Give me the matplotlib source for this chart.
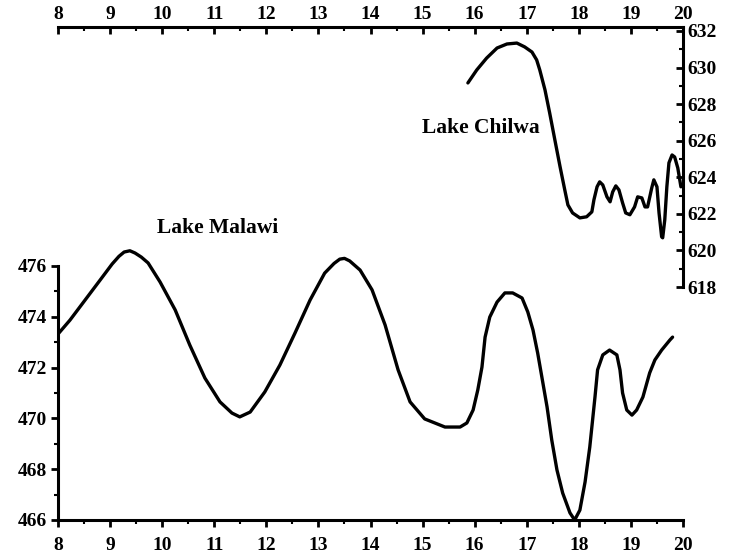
import numpy as np
import matplotlib
matplotlib.use("Agg")
import matplotlib.pyplot as plt
from matplotlib.ticker import MultipleLocator, FixedLocator

# -----------------------------
# Data
# -----------------------------

malawi_x = [8.00, 8.23, 8.52, 8.81, 9.04, 9.17, 9.27, 9.38, 9.48, 9.60,
            9.73, 9.96, 10.25, 10.53, 10.82, 11.11, 11.34, 11.49, 11.69, 11.97,
            12.26, 12.55, 12.84, 13.12, 13.30, 13.41, 13.50, 13.60, 13.80, 14.03,
            14.28, 14.53, 14.76, 15.04, 15.43, 15.72, 15.85, 15.97, 16.06, 16.14,
            16.20, 16.29, 16.43, 16.58, 16.73, 16.91, 17.02, 17.12, 17.21, 17.29,
            17.39, 17.48, 17.58, 17.69, 17.83, 17.92, 18.02, 18.12, 18.21, 18.31,
            18.36, 18.46, 18.59, 18.73, 18.79, 18.84, 18.92, 19.02, 19.11, 19.23,
            19.36, 19.46, 19.59, 19.75, 19.80]
malawi_y = [473.32, 473.87, 474.66, 475.45, 476.08, 476.38, 476.55, 476.60, 476.51, 476.35,
            476.12, 475.37, 474.27, 472.89, 471.59, 470.65, 470.21, 470.06, 470.25, 471.04,
            472.10, 473.36, 474.66, 475.72, 476.10, 476.27, 476.30, 476.20, 475.84, 475.06,
            473.68, 471.91, 470.65, 469.98, 469.66, 469.66, 469.82, 470.33, 471.12, 472.02,
            473.20, 473.99, 474.58, 474.94, 474.94, 474.74, 474.19, 473.48, 472.57, 471.63,
            470.45, 469.15, 467.97, 467.06, 466.28, 466.00, 466.39, 467.50, 468.87, 470.84,
            471.91, 472.50, 472.69, 472.50, 471.91, 471.00, 470.33, 470.13, 470.33, 470.84,
            471.79, 472.30, 472.69, 473.09, 473.20]

chilwa_x = [15.87, 16.04, 16.23, 16.43, 16.62, 16.81, 16.96, 17.10, 17.19, 17.25,
            17.35, 17.44, 17.54, 17.64, 17.73, 17.79, 17.88, 18.02, 18.15, 18.25,
            18.29, 18.35, 18.40, 18.46, 18.54, 18.60, 18.65, 18.71, 18.77, 18.84,
            18.90, 18.98, 19.07, 19.13, 19.21, 19.27, 19.32, 19.40, 19.44, 19.50,
            19.54, 19.59, 19.61, 19.65, 19.69, 19.73, 19.79, 19.84, 19.90, 19.96]
chilwa_y = [629.16, 629.87, 630.52, 631.07, 631.29, 631.34, 631.13, 630.85, 630.42, 629.87,
            628.78, 627.52, 626.04, 624.57, 623.31, 622.49, 622.05, 621.78, 621.84, 622.11,
            622.77, 623.48, 623.75, 623.58, 622.93, 622.66, 623.20, 623.53, 623.31, 622.60,
            622.05, 621.95, 622.38, 622.93, 622.87, 622.38, 622.38, 623.42, 623.86, 623.48,
            622.05, 620.74, 620.69, 621.67, 623.48, 624.79, 625.22, 625.11, 624.51, 623.48]

malawi_ticks = [466, 468, 470, 472, 474, 476]
malawi_minor = [467, 469, 471, 473, 475]
chilwa_ticks = [618, 620, 622, 624, 626, 628, 630, 632]

W, H = 731, 556
plt.rcParams["font.family"] = ["Liberation Serif", "DejaVu Serif"]
plt.rcParams["font.weight"] = "bold"

fig = plt.figure(figsize=(W / 100, H / 100), dpi=100)

x_left, x_right = 58, 683

# -----------------------------
# Lake Malawi (left / bottom axes)
# -----------------------------
m_bot, m_top = 520, 240.6
ax1 = fig.add_axes([x_left / W, 1 - m_bot / H,
                    (x_right - x_left) / W, (m_bot - m_top) / H])
ax1.plot(malawi_x, malawi_y, color="black", lw=2.4,
         solid_capstyle="round", solid_joinstyle="round")
ax1.set_xlim(8, 20)
ax1.set_ylim(466, 477)
ax1.spines["top"].set_visible(False)
ax1.spines["right"].set_visible(False)
ax1.spines["left"].set_bounds(466, 476)
for s in ("left", "bottom"):
    ax1.spines[s].set_linewidth(2.2)
ax1.xaxis.set_major_locator(MultipleLocator(1))
ax1.xaxis.set_minor_locator(MultipleLocator(0.5))
ax1.yaxis.set_major_locator(FixedLocator(malawi_ticks))
ax1.yaxis.set_minor_locator(FixedLocator(malawi_minor))
ax1.tick_params(which="major", direction="out", length=5, width=2,
                labelsize=14, pad=3)
ax1.tick_params(axis="x", which="major", pad=7)
ax1.tick_params(which="minor", direction="out", length=3, width=1.5)
ax1.patch.set_alpha(0)
ax1.text(11.07, 477.5, "Lake Malawi", fontsize=15.5, fontweight="bold",
         ha="center", va="center")

# -----------------------------
# Lake Chilwa (top / right axes)
# -----------------------------
c_top, c_bot = 27, 287
ax2 = fig.add_axes([x_left / W, 1 - c_bot / H,
                    (x_right - x_left) / W, (c_bot - c_top) / H])
ax2.plot(chilwa_x, chilwa_y, color="black", lw=2.4,
         solid_capstyle="round", solid_joinstyle="round")
ax2.set_xlim(8, 20)
ax2.set_ylim(618, 632 + 4 / 18.3)
ax2.spines["bottom"].set_visible(False)
ax2.spines["left"].set_visible(False)
for s in ("top", "right"):
    ax2.spines[s].set_linewidth(2.2)
ax2.xaxis.tick_top()
ax2.yaxis.tick_right()
ax2.xaxis.set_major_locator(MultipleLocator(1))
ax2.xaxis.set_minor_locator(MultipleLocator(0.5))
ax2.yaxis.set_major_locator(FixedLocator(chilwa_ticks))
ax2.yaxis.set_minor_locator(MultipleLocator(1))
ax2.tick_params(which="major", direction="in", length=5, width=2,
                labelsize=14, pad=3)
ax2.tick_params(which="minor", direction="in", length=3, width=1.5)
ax2.patch.set_alpha(0)
ax2.text(16.12, 626.7, "Lake Chilwa", fontsize=15.5, fontweight="bold",
         ha="center", va="center")

fig.savefig("out.png", dpi=100)
